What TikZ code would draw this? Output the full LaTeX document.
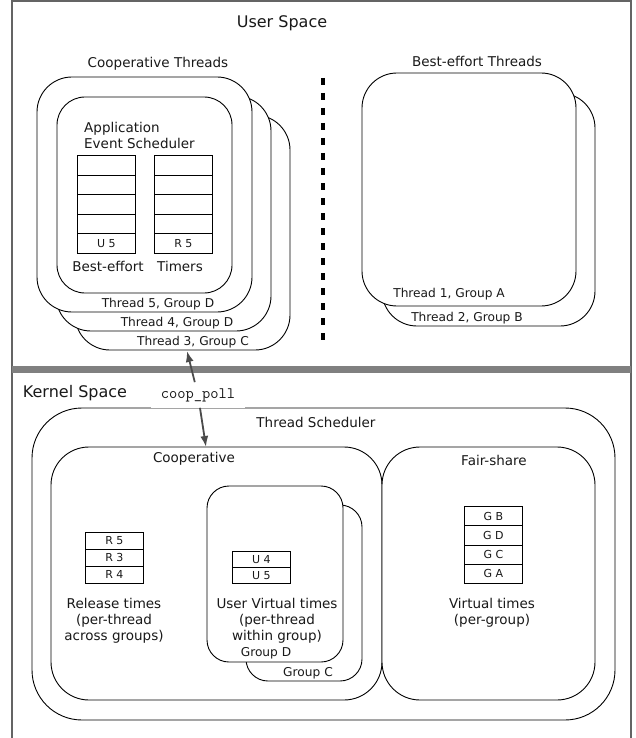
\documentclass[tikz,border=0pt]{standalone}
\usepackage{fontspec}
\setmainfont{DejaVu Sans}
\usetikzlibrary{arrows.meta}
\definecolor{framec}{RGB}{100,100,100}
\definecolor{barc}{RGB}{128,128,128}
\definecolor{arrc}{RGB}{75,75,75}
\definecolor{txt}{RGB}{25,25,25}
\begin{document}
\begin{tikzpicture}[x=1pt,y=-1pt,
  rbox/.style={draw=black, fill=white, line width=0.9pt, rectangle, inner sep=0pt, rounded corners=#1},
  cell/.style={draw=black, fill=white, line width=0.8pt, rectangle, inner sep=0pt, minimum width=58pt, anchor=north west, text=txt, font=\fontsize{11}{12}\selectfont},
  lbl/.style={inner sep=0pt, text=txt, font=\fontsize{13.5}{16}\selectfont},
  tlbl/.style={inner sep=0pt, text=txt, font=\fontsize{12.2}{14}\selectfont},
  big/.style={inner sep=0pt, text=txt, font=\fontsize{16}{19}\selectfont},
  arr/.style={draw=arrc, line width=1.8pt, -{Latex[length=11pt,width=8pt]}}
]
\useasboundingbox (0,0) rectangle (636,738);
% frames
\draw[framec, line width=1.3pt] (12,745) -- (12,1) -- (631,1) -- (631,745);
\fill[barc] (12,366) rectangle (631,373);

% ---------- User space ----------
\node[big] (us) at (282,23) {User Space};
\node[lbl] (ctl) at (158,64) {Cooperative Threads};

\node[rbox=35, minimum width=215pt, minimum height=235pt] (ct3) at (182.5,232.5) {};
\node[rbox=35, minimum width=215pt, minimum height=235pt] (ct4) at (163.5,213.5) {};
\node[rbox=35, minimum width=215pt, minimum height=235pt] (ct5) at (144.5,194.5) {};
\node[rbox=28, minimum width=175pt, minimum height=196pt] (aes) at (144.5,195) {};
\node[lbl, align=left, anchor=west] (aest) at (84,135) {Application\\Event Scheduler};

\foreach \i/\t in {1/,2/,3/,4/,5/{U 5\hspace{12pt}}} {
  \node[cell, minimum height=19.6pt] (be\i) at (77,{155+(\i-1)*19.6}) {\t};
}
\foreach \i/\t in {1/,2/,3/,4/,5/{R 5\hspace{12pt}}} {
  \node[cell, minimum height=19.6pt] (tm\i) at (154,{155+(\i-1)*19.6}) {\t};
}
\node[lbl] (bel) at (108,266) {Best-effort};
\node[lbl] (tml) at (180,266) {Timers};

\node[tlbl] (t5l) at (158,304) {Thread 5, Group D};
\node[tlbl] (t4l) at (177,323) {Thread 4, Group D};
\node[tlbl] (t3l) at (193,342) {Thread 3, Group C};

\draw[line width=4pt, dash pattern=on 7pt off 8pt] (323,78) -- (323,346);

\node[lbl] (btl) at (477,61) {Best-effort Threads};
\node[rbox=35, minimum width=213pt, minimum height=233pt] (bt2) at (488.5,209.5) {};
\node[rbox=35, minimum width=214pt, minimum height=233pt] (bt1) at (469,189.5) {};
\node[tlbl] (t1l) at (449,294) {Thread 1, Group A};
\node[tlbl] (t2l) at (467,318) {Thread 2, Group B};

% ---------- Kernel space ----------
\node[big] (ks) at (75,393) {Kernel Space};
\node[rbox=50, minimum width=583pt, minimum height=312pt] (ts) at (323.5,564) {};
\node[lbl] (tsl) at (316,422) {Thread Scheduler};
\node[rbox=38, minimum width=331pt, minimum height=253pt] (coop) at (216.5,573.5) {};
\node[rbox=38, minimum width=213pt, minimum height=253pt] (fair) at (488.5,573.5) {};
\node[lbl] (coopl) at (194,459) {Cooperative};
\node[lbl] (fairl) at (494,460) {Fair-share};

\foreach \i/\t in {1/R 5,2/R 3,3/R 4} {
  \node[cell, minimum height=17pt] (rq\i) at (85,{532+(\i-1)*17}) {\t\hspace{10pt}};
}
\node[lbl, align=center] (rql) at (114,621) {Release times\\(per-thread\\across groups)};

\node[rbox=22, minimum width=116pt, minimum height=176pt] (gc) at (304,593) {};
\node[rbox=22, minimum width=136pt, minimum height=176pt] (gd) at (275,574) {};
\foreach \i/\t in {1/U 4,2/U 5} {
  \node[cell, minimum height=16pt] (uq\i) at (232,{551+(\i-1)*16}) {\t\hspace{8pt}};
}
\node[lbl, align=center] (uql) at (277,621) {User Virtual times\\(per-thread\\within group)};
\node[tlbl] (gdl) at (266,653) {Group D};
\node[tlbl] (gcl) at (308,673) {Group C};

\foreach \i/\t in {1/G B,2/G D,3/G C,4/G A} {
  \node[cell, minimum height=19.25pt] (gq\i) at (464,{506+(\i-1)*19.25}) {\t\hspace{12pt}};
}
\node[lbl, align=center] (gql) at (492,613) {Virtual times\\(per-group)};

% ---------- coop_poll ----------
\node[fill=white, inner xsep=10pt, inner ysep=6pt, text=txt, font=\ttfamily\fontsize{16}{18}\selectfont] (cp) at (198,395) {coop\_poll};
\coordinate (t3tip) at (187,351);
\coordinate (cotip) at (206,447);
\draw[arr] (cp) -- (t3tip);
\draw[arr] (cp) -- (cotip);
\end{tikzpicture}
\end{document}
